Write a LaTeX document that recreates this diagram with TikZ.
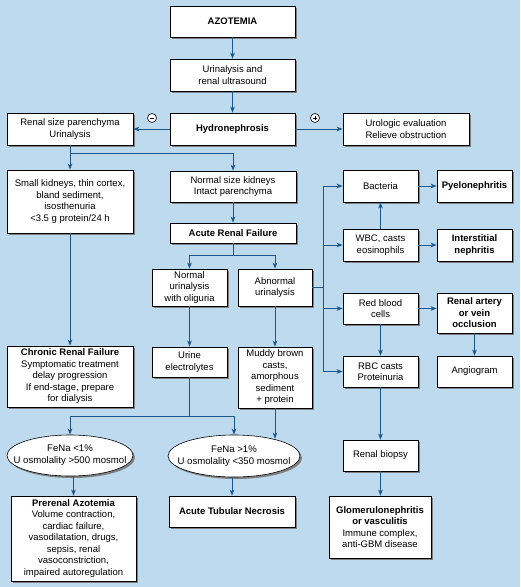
\documentclass[tikz,border=0pt]{standalone}
\usepackage{fontspec}
\setmainfont{Liberation Sans}
\usetikzlibrary{arrows.meta,shapes.geometric,shadows,calc}
\definecolor{bg}{RGB}{189,218,239}
\definecolor{lnc}{RGB}{28,88,140}
\begin{document}
\begin{tikzpicture}[x=1pt,y=-1pt,
  font=\fontsize{9.5}{11.5}\selectfont,
  bx/.style={draw=black,line width=0.6pt,fill=white,align=center,inner sep=1pt,
    drop shadow={shadow xshift=2pt,shadow yshift=-2pt,opacity=1,fill=black!50}},
  el/.style={bx,ellipse,inner sep=0pt},
  eltxt/.style={align=center,inner sep=0pt,font=\fontsize{9.6}{11.8}\selectfont},
  ln/.style={draw=lnc,line width=1pt},
  arr/.style={ln,-{Stealth[length=6pt,width=4.5pt,inset=1.5pt]}},
  sign/.style={draw=black,circle,fill=white,line width=0.6pt,minimum size=9pt,inner sep=0pt}]
\fill[bg] (0,0) rectangle (520,587);
\useasboundingbox (0,0) rectangle (520,587);

% top column
\node[bx,minimum width=125pt,minimum height=31pt] (az) at (232.5,21.5) {\textbf{AZOTEMIA}};
\node[bx,minimum width=125pt,minimum height=32pt] (ua) at (232.5,75) {Urinalysis and\\renal ultrasound};
\node[bx,minimum width=125pt,minimum height=32pt] (hy) at (232.5,129) {\textbf{Hydronephrosis}};
\node[bx,minimum width=126pt,minimum height=32pt] (rs) at (70,129) {Renal size parenchyma\\Urinalysis};
\node[bx,minimum width=126pt,minimum height=32pt] (uro) at (406,129) {Urologic evaluation\\Relieve obstruction};
\node[sign] (minus) at (152,118) {};
\draw[line width=0.8pt] ($(minus.center)+(-2.4pt,0)$) -- ($(minus.center)+(2.4pt,0)$);
\node[sign] (plus) at (315,118) {};
\draw[line width=0.8pt] ($(plus.center)+(-2.4pt,0)$) -- ($(plus.center)+(2.4pt,0)$);
\draw[line width=0.8pt] ($(plus.center)+(0,-2.4pt)$) -- ($(plus.center)+(0,2.4pt)$);

% left column
\node[bx,minimum width=126pt,minimum height=63pt] (sk) at (70,201.5) {Small kidneys, thin cortex,\\bland sediment,\\isosthenuria\\<3.5 g protein/24 h};
\node[bx,minimum width=126pt,minimum height=61pt] (crf) at (70,376.5) {\textbf{Chronic Renal Failure}\\Symptomatic treatment\\delay progression\\If end-stage, prepare\\for dialysis};

% middle
\node[bx,minimum width=126pt,minimum height=31pt] (ns) at (233,186.5) {Normal size kidneys\\Intact parenchyma};
\node[bx,minimum width=126pt,minimum height=20pt] (arf) at (233,233) {\textbf{Acute Renal Failure}};
\node[bx,minimum width=75pt,minimum height=37pt] (nu) at (189.5,287.5) {Normal\\urinalysis\\with oliguria};
\node[bx,minimum width=74pt,minimum height=37pt] (ab) at (275,287.5) {Abnormal\\urinalysis};
\node[bx,minimum width=75pt,minimum height=30pt] (ue) at (189.5,362) {Urine\\electrolytes};
\node[bx,minimum width=74pt,minimum height=61pt] (mb) at (275,377.5) {Muddy brown\\casts,\\amorphous\\sediment\\+ protein};

% right
\node[bx,minimum width=75pt,minimum height=32pt] (bac) at (380.5,186) {Bacteria};
\node[bx,minimum width=75pt,minimum height=32pt] (pyel) at (474.5,186) {\textbf{Pyelonephritis}};
\node[bx,minimum width=75pt,minimum height=32pt] (wbc) at (380.5,245) {WBC, casts\\eosinophils};
\node[bx,minimum width=75pt,minimum height=32pt] (inter) at (474.5,245) {\textbf{Interstitial}\\\textbf{nephritis}};
\node[bx,minimum width=75pt,minimum height=31pt] (rbc) at (380.5,308.5) {Red blood\\cells};
\node[bx,minimum width=75pt,minimum height=40pt] (rav) at (474.5,313) {\textbf{Renal artery}\\\textbf{or vein}\\\textbf{occlusion}};
\node[bx,minimum width=75pt,minimum height=31pt] (ang) at (474.5,371.5) {Angiogram};
\node[bx,minimum width=75pt,minimum height=31pt] (rbcc) at (380.5,371.5) {RBC casts\\Proteinuria};
\node[bx,minimum width=75pt,minimum height=31pt] (bio) at (380.5,455.5) {Renal biopsy};
\node[bx,minimum width=102pt,minimum height=62pt] (gn) at (380,527) {\textbf{Glomerulonephritis}\\\textbf{or vasculitis}\\Immune complex,\\anti-GBM disease};

% bottom
\node[el,minimum width=126pt,minimum height=41pt] (e1) at (70,455.5) {};
\node[eltxt] (e1t) at (e1) {FeNa <1\%\\U osmolality >500 mosmol};
\node[el,minimum width=132pt,minimum height=42pt] (e2) at (234,456) {};
\node[eltxt] (e2t) at (e2) {FeNa >1\%\\U osmolality <350 mosmol};
\node[bx,minimum width=125pt,minimum height=85pt] (pre) at (73.5,538.5) {\textbf{Prerenal Azotemia}\\Volume contraction,\\cardiac failure,\\vasodilatation, drugs,\\sepsis, renal\\vasoconstriction,\\impaired autoregulation};
\node[bx,minimum width=126pt,minimum height=31pt] (atn) at (232,511.5) {\textbf{Acute Tubular Necrosis}};

% coordinates
\coordinate (s1) at (70,153);
\coordinate (s2) at (233,255);
\coordinate (tr) at (323,287.5);
\coordinate (s3) at (189.5,416);

% connectors
\draw[arr] (az) -- (ua);
\draw[arr] (ua) -- (hy);
\draw[arr] (hy) -- (rs);
\draw[arr] (hy) -- (uro);
\draw[arr] (rs) -- (sk);
\draw[arr] (s1) -| (ns.north);
\draw[arr] (sk) -- (crf);
\draw[arr] (ns) -- (arf);
\draw[ln] (arf.south) -- (s2);
\draw[arr] (s2) -| (nu.north);
\draw[arr] (s2) -| (ab.north);
\draw[arr] (nu) -- (ue);
\draw[arr] (ab) -- (mb);
\draw[ln] (ab.east) -- (tr);
\draw[arr] (tr) |- (bac.west);
\draw[arr] (tr) |- (wbc.west);
\draw[arr] (tr) |- (rbc.west);
\draw[arr] (tr) |- (rbcc.west);
\draw[arr] (wbc) -- (bac);
\draw[arr] (bac) -- (pyel);
\draw[arr] (wbc) -- (inter);
\draw[arr] (rbc.east) -- (rbc.east -| rav.west);
\draw[arr] (rbc) -- (rbcc);
\draw[arr] (rav) -- (ang);
\draw[arr] (rbcc) -- (bio);
\draw[arr] (bio) -- (bio.south |- gn.north);
\draw[ln] (ue.south) -- (s3);
\draw[arr] (s3) -| (e1.north);
\draw[arr] (s3) -| (e2.north);
\draw[arr] (mb.south) -- (mb.south |- e2.24);
\draw[arr] (pre.north |- e1.south) -- (pre.north);
\draw[arr] (atn.north |- e2.south) -- (atn.north);
\end{tikzpicture}
\end{document}
